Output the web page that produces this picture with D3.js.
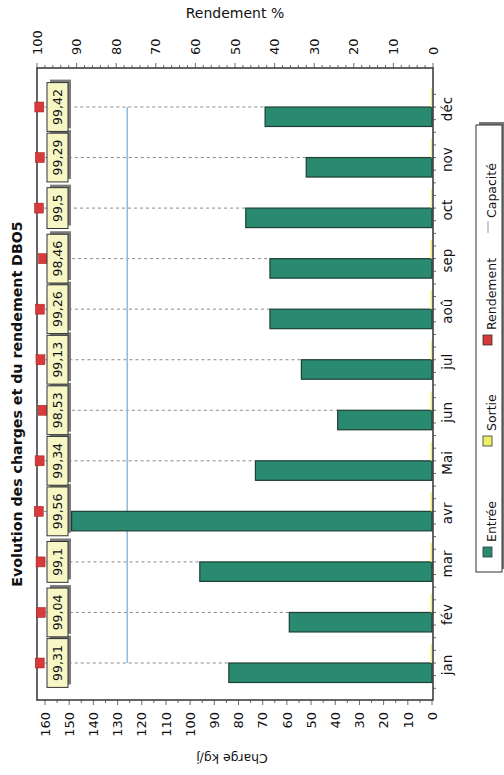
<!DOCTYPE html>
<html><head><meta charset="utf-8">
<script src="https://cdn.jsdelivr.net/npm/d3@7"></script>
<style>body{margin:0;background:#fff} svg{display:block}</style>
</head><body>
<script>
const months = ["jan","fév","mar","avr","Mai","jun","jul","aoû","sep","oct","nov","déc"];
const entree = [84,59,96,149,73,39,54,67,67,77,52,69];
const sortie = [0.5,0.5,0.6,0.6,0.5,0.5,0.4,0.5,0.6,0.4,0.4,0.4];
const rendement = [99.31,99.04,99.1,99.56,99.34,98.53,99.13,99.26,98.46,99.5,99.29,99.42];
const rendementLabels = ["99,31","99,04","99,1","99,56","99,34","98,53","99,13","99,26","98,46","99,5","99,29","99,42"];
const capacite = 126;
const chargeTicks = d3.range(0,161,10);
const rendTicks = d3.range(0,101,10);
const legendItems = ["Entrée","Sortie","Rendement","Capacité"];
const title = "Evolution des charges et du rendement DBO5";
const chargeTitle = "Charge kg/j";
const rendTitle = "Rendement %";

(function(){
const W=504,H=775;
const F={l:37,r:433,t:68,b:700};
const svg=d3.select("body").append("svg").attr("width",W).attr("height",H).style("font-family","DejaVu Sans, sans-serif");
const xC=d3.scaleLinear().domain([0,160]).range([432,45]);
const xR=d3.scaleLinear().domain([0,100]).range([F.r,F.l]);
const y=d3.scalePoint().domain(months).range([663,107]);
const data=months.map((m,i)=>({m,e:entree[i],s:sortie[i],r:rendement[i],lab:rendementLabels[i]}));
const teal="#2a8a70", red="#d63a3a", yellow="#f7f7c6", blue="#93bddf";

svg.append("g").selectAll("line").data(data).join("line")
 .attr("x1",d=>xR(d.r)+5).attr("x2",d=>xC(d.e)).attr("y1",d=>y(d.m)).attr("y2",d=>y(d.m))
 .attr("stroke","#8a8a8a").attr("stroke-width",1).attr("stroke-dasharray","3,3");

svg.append("line").attr("x1",xC(capacite)).attr("x2",xC(capacite))
 .attr("y1",y(months[0])).attr("y2",y(months[months.length-1]))
 .attr("stroke",blue).attr("stroke-width",1.6);

svg.append("g").selectAll("rect").data(data).join("rect")
 .attr("x",d=>xC(d.e)).attr("width",d=>xC(0)-xC(d.e))
 .attr("y",d=>y(d.m)).attr("height",19.5)
 .attr("fill",teal).attr("stroke","#1d3f35").attr("stroke-width",1.2);
svg.append("g").selectAll("rect").data(data).join("rect")
 .attr("x",d=>xC(d.s)).attr("width",d=>xC(0)-xC(d.s))
 .attr("y",d=>y(d.m)-19).attr("height",19)
 .attr("fill","#eeee70");

svg.append("rect").attr("x",F.l).attr("y",F.t).attr("width",F.r-F.l).attr("height",F.b-F.t)
 .attr("fill","none").attr("stroke","#333").attr("stroke-width",1.5);

const tAx=svg.append("g");
tAx.selectAll("line").data(d3.range(0,101,2)).join("line")
 .attr("x1",d=>xR(d)).attr("x2",d=>xR(d)).attr("y1",F.t).attr("y2",d=>F.t-(d%10===0?5:3))
 .attr("stroke","#444").attr("stroke-width",0.8);
tAx.selectAll("text").data(rendTicks).join("text")
 .attr("transform",d=>`translate(${xR(d)},55) rotate(-90)`).attr("dy","0.36em")
 .attr("text-anchor","start").attr("font-size",13).attr("fill","#111").text(d=>d);
svg.append("text").attr("x",(F.l+F.r)/2).attr("y",18).attr("text-anchor","middle")
 .attr("font-size",14).attr("fill","#111").text(rendTitle);

const bAx=svg.append("g");
bAx.selectAll("line").data(d3.range(0,161,5)).join("line")
 .attr("x1",d=>xC(d)).attr("x2",d=>xC(d)).attr("y1",F.b).attr("y2",d=>F.b+(d%10===0?5:3))
 .attr("stroke","#444").attr("stroke-width",0.8);
bAx.selectAll("text").data(chargeTicks).join("text")
 .attr("transform",d=>`translate(${xC(d)},712) rotate(-90)`).attr("dy","0.36em")
 .attr("text-anchor","end").attr("font-size",13).attr("fill","#111").text(d=>d);
svg.append("text").attr("transform",`translate(${(F.l+F.r)/2-3},754) rotate(180)`)
 .attr("text-anchor","middle").attr("font-size",12.5).attr("fill","#111").text(chargeTitle);

const step=y.step();
const rAx=svg.append("g");
const tickPos=[];
months.forEach(m=>{tickPos.push(y(m));tickPos.push(y(m)+step/4);tickPos.push(y(m)-step/4);tickPos.push(y(m)+step/2);});
rAx.selectAll("line").data(tickPos).join("line")
 .attr("x1",F.r).attr("x2",F.r+3).attr("y1",d=>d).attr("y2",d=>d).attr("stroke","#444").attr("stroke-width",0.8);
rAx.selectAll("text").data(months).join("text")
 .attr("transform",d=>`translate(447,${y(d)+2}) rotate(-90)`).attr("dy","0.36em")
 .attr("text-anchor","middle").attr("font-size",13.5).attr("fill","#111").text(d=>d);

svg.append("g").selectAll("rect").data(data).join("rect")
 .attr("x",d=>xR(d.r)-4.5).attr("y",d=>y(d.m)-5).attr("width",9).attr("height",10)
 .attr("fill",red).attr("stroke","#a02020").attr("stroke-width",0.5);

const lg=svg.append("g").selectAll("g").data(data).join("g")
 .attr("transform",d=>`translate(57.5,${y(d.m)}) rotate(-90)`);
lg.each(function(d){
  const g=d3.select(this);
  const t=g.append("text").attr("text-anchor","middle").attr("y",4.5).attr("font-size",12.5).attr("fill","#111").text(d.lab);
  const len=t.node().getComputedTextLength();
  const w=Math.max(len+13,40);
  g.insert("rect","text").attr("x",-w/2+3).attr("y",-10.5+3).attr("width",w).attr("height",21).attr("fill","#7a7a7a");
  g.insert("rect","text").attr("x",-w/2).attr("y",-10.5).attr("width",w).attr("height",21).attr("fill",yellow).attr("stroke","#333").attr("stroke-width",1);
});

svg.append("text").attr("transform",`translate(17,404) rotate(-90)`).attr("dy","0.36em")
 .attr("text-anchor","middle").attr("font-size",14.2).attr("font-weight","bold").attr("fill","#111").text(title);

const L={x:476,y:125,w:26,h:447};
svg.append("rect").attr("x",L.x+3).attr("y",L.y-3).attr("width",L.w).attr("height",L.h).attr("fill","#777");
svg.append("rect").attr("x",L.x).attr("y",L.y).attr("width",L.w).attr("height",L.h).attr("fill","#fff").attr("stroke","#333").attr("stroke-width",1);
const legY=[557,446,345,233];
const lx=487;
const swFill=[teal,"#f0ef6a",red,null];
legendItems.forEach((name,i)=>{
  const yy=legY[i];
  if(swFill[i]){svg.append("rect").attr("x",lx-4).attr("y",yy-10).attr("width",9).attr("height",10).attr("fill",swFill[i]).attr("stroke","#333").attr("stroke-width",0.8);}
  else{svg.append("line").attr("x1",lx+1).attr("x2",lx+1).attr("y1",yy).attr("y2",yy-12).attr("stroke","#999").attr("stroke-width",1);}
  svg.append("text").attr("transform",`translate(${lx+4},${yy-15}) rotate(-90)`).attr("dy","0.36em")
   .attr("text-anchor","start").attr("font-size",12.5).attr("fill","#111").text(name);
});
})();
</script>
</body></html>
